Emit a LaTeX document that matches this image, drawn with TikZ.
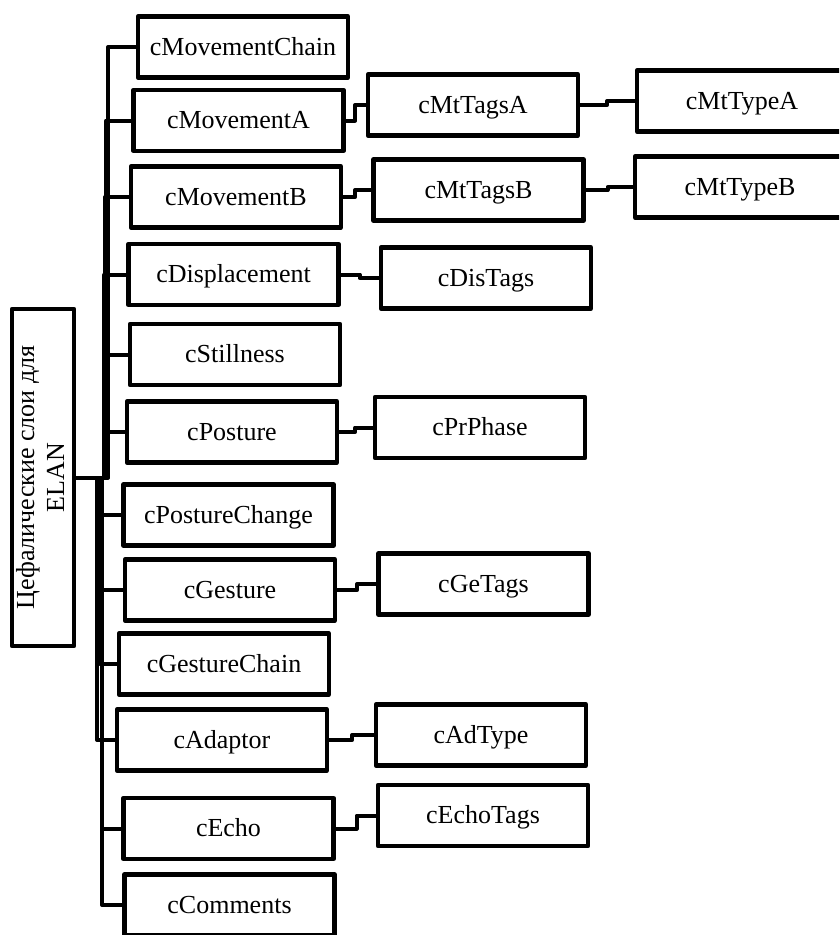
\documentclass[tikz,border=0pt]{standalone}
\usepackage{fontspec}
\setmainfont{Liberation Serif}
\begin{document}
\begin{tikzpicture}[x=0.75pt,y=-0.75pt,
  box/.style={draw, line width=3.2pt, line join=round, minimum width=157.5pt, minimum height=45.75pt, inner sep=0pt, text height=12pt, text depth=0pt, font=\fontsize{19.5}{23}\selectfont},
  link/.style={line width=3pt, line join=round}]
\useasboundingbox (0,0) rectangle (839,935);
\clip (0,0) rectangle (839,935);
% root
\node[draw, line width=3.2pt, line join=round, minimum width=46.5pt, minimum height=252.75pt, inner sep=0pt] (root) at (43,477.5)
  {\rotatebox{90}{\fontsize{19.5}{22.5}\selectfont\begin{tabular}{@{}c@{}}Цефалические слои для\\ELAN\end{tabular}}};
% first level
\node[box] (mc) at (243,47) {cMovementChain};
\node[box] (ma) at (238.5,120.5) {cMovementA};
\node[box] (mb) at (236,197) {cMovementB};
\node[box] (di) at (233.5,274.5) {cDisplacement};
\node[box] (st) at (235,354.5) {cStillness};
\node[box] (po) at (232,432) {cPosture};
\node[box] (pc) at (228.5,515) {cPostureChange};
\node[box] (ge) at (230,590) {cGesture};
\node[box] (gc) at (224,664) {cGestureChain};
\node[box] (ad) at (222,740) {cAdaptor};
\node[box] (ec) at (228.5,828.5) {cEcho};
\node[box] (co) at (229.5,905) {cComments};
% second level
\node[box] (ta) at (473,105) {cMtTagsA};
\node[box] (tb) at (478.5,190) {cMtTagsB};
\node[box] (dt) at (486,278) {cDisTags};
\node[box] (pp) at (480,427.5) {cPrPhase};
\node[box] (gt) at (483.5,584) {cGeTags};
\node[box] (at) at (481,735) {cAdType};
\node[box] (et) at (483,815.5) {cEchoTags};
% third level
\node[box] (ya) at (742,101) {cMtTypeA};
\node[box] (yb) at (740,187) {cMtTypeB};
% root connectors
\draw[link] (root.east) -- ++(32,0) |- (mc.west);
\draw[link] (root.east) -- ++(30,0) |- (ma.west);
\draw[link] (root.east) -- ++(29,0) |- (mb.west);
\draw[link] (root.east) -- ++(28,0) |- (di.west);
\draw[link] (root.east) -- ++(31,0) |- (st.west);
\draw[link] (root.east) -- ++(29,0) |- (po.west);
\draw[link] (root.east) -- ++(22,0) |- (pc.west);
\draw[link] (root.east) -- ++(23,0) |- (ge.west);
\draw[link] (root.east) -- ++(24,0) |- (gc.west);
\draw[link] (root.east) -- ++(21,0) |- (ad.west);
\draw[link] (root.east) -- ++(26,0) |- (ec.west);
\draw[link] (root.east) -- ++(26,0) |- (co.west);
% child connectors
\draw[link] (ma.east) -- ++(9.5,0) |- (ta.west);
\draw[link] (ta.east) -- ++(27,0) |- (ya.west);
\draw[link] (mb.east) -- ++(12,0) |- (tb.west);
\draw[link] (tb.east) -- ++(22,0) |- (yb.west);
\draw[link] (di.east) -- ++(19,0) |- (dt.west);
\draw[link] (po.east) -- ++(16,0) |- (pp.west);
\draw[link] (ge.east) -- ++(20,0) |- (gt.west);
\draw[link] (ad.east) -- ++(23,0) |- (at.west);
\draw[link] (ec.east) -- ++(21,0) |- (et.west);
\end{tikzpicture}
\end{document}
